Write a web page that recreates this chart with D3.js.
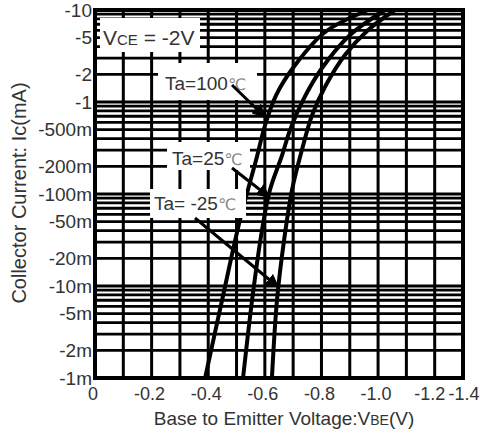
<!DOCTYPE html>
<html>
<head>
<meta charset="utf-8">
<script src="https://cdn.jsdelivr.net/npm/d3@7"></script>
<style>
  body { margin: 0; background: #fff; }
  svg { display: block; font-family: "Liberation Sans", Arial, sans-serif; }
</style>
</head>
<body>
<script>
const width = 480;
const height = 437;

// data (V in volts, Ic in mA)
const vbe100 = [-0.389, -0.449, -0.512, -0.569, -0.601, -0.640, -0.707, -0.813, -0.965];
const ic100 = [-0.001, -0.00705, -0.0521, -0.234, -0.562, -1.19, -2.52, -5.77, -10];
const vbe25 = [-0.523, -0.555, -0.590, -0.618, -0.661, -0.689, -0.735, -0.802, -0.901, -1.025];
const ic25 = [-0.001, -0.00705, -0.0406, -0.1105, -0.265, -0.497, -1.05, -2.34, -5.35, -10];
const vbeM25 = [-0.625, -0.643, -0.668, -0.696, -0.731, -0.767, -0.816, -0.883, -0.965, -1.060];
const icM25 = [-0.001, -0.00705, -0.0316, -0.1105, -0.301, -0.723, -1.53, -3.24, -6.06, -10];

const xTicks = [0, -0.2, -0.4, -0.6, -0.8, -1.0, -1.2, -1.3];
const xTickLabels = ["0", "-0.2", "-0.4", "-0.6", "-0.8", "-1.0", "-1.2", "-1.4"];
const yTicks = [-10, -5, -2, -1, -0.5, -0.2, -0.1, -0.05, -0.02, -0.01, -0.005, -0.002, -0.001];
const yTickLabels = ["-10", "-5", "-2", "-1", "-500m", "-200m", "-100m", "-50m", "-20m", "-10m", "-5m", "-2m", "-1m"];

const margin = { left: 95, right: 17, top: 10, bottom: 59 };

const svg = d3.select("body")
    .append("svg")
    .attr("width", width)
    .attr("height", height);

const x = d3.scaleLinear()
    .domain([0, -1.3])
    .range([margin.left, width - margin.right]);

const y = d3.scaleLog()
    .domain([-0.001, -10])
    .range([height - margin.bottom, margin.top]);

// grid: every 0.1 V, and log minors
const xGrid = d3.range(1, 13).map(i => -i / 10);
const yGrid = [];
[-3, -2, -1, 0].forEach(k => {
    for (let m = 1; m <= 9; m++) yGrid.push(-m * Math.pow(10, k));
});

const grid = svg.append("g");
grid.selectAll(".vg")
    .data(xGrid)
    .enter()
    .append("line")
    .attr("x1", d => x(d)).attr("x2", d => x(d))
    .attr("y1", y(-10)).attr("y2", y(-0.001))
    .attr("stroke", "#000")
    .attr("stroke-width", 3);

grid.selectAll(".hg")
    .data(yGrid)
    .enter()
    .append("line")
    .attr("x1", x(0)).attr("x2", x(-1.3))
    .attr("y1", d => y(d)).attr("y2", d => y(d))
    .attr("stroke", "#000")
    .attr("stroke-width", 2.8);

svg.append("rect")
    .attr("x", x(0))
    .attr("y", y(-10))
    .attr("width", x(-1.3) - x(0))
    .attr("height", y(-0.001) - y(-10))
    .attr("fill", "none")
    .attr("stroke", "#000")
    .attr("stroke-width", 4);

// curves
const line = d3.line()
    .x(d => x(d[0]))
    .y(d => y(d[1]))
    .curve(d3.curveCatmullRom.alpha(0.5));

const series = [
    d3.zip(vbe100, ic100),
    d3.zip(vbe25, ic25),
    d3.zip(vbeM25, icM25)
];

svg.selectAll(".curve")
    .data(series)
    .enter()
    .append("path")
    .attr("d", line)
    .attr("fill", "none")
    .attr("stroke", "#000")
    .attr("stroke-width", 4);

// tick labels (the last one is pushed to the right edge as in the scan)
const lastX = xTicks.length - 1;
svg.append("g")
    .selectAll("text")
    .data(xTicks)
    .enter()
    .append("text")
    .attr("x", (d, i) => i === lastX ? width - 0.5 : x(d) - (i === lastX - 1 ? 5 : 2))
    .attr("y", 400)
    .attr("text-anchor", (d, i) => i === lastX ? "end" : "middle")
    .attr("font-size", "18px")
    .attr("fill", "#333")
    .text((d, i) => xTickLabels[i]);

svg.append("g")
    .selectAll("text")
    .data(yTicks)
    .enter()
    .append("text")
    .attr("x", margin.left - 3)
    .attr("y", d => y(d))
    .attr("dy", "0.35em")
    .attr("text-anchor", "end")
    .attr("font-size", "19px")
    .attr("fill", "#333")
    .text((d, i) => yTickLabels[i]);

// axis titles
const xTitle = svg.append("text")
    .attr("x", 284)
    .attr("y", 425)
    .attr("text-anchor", "middle")
    .attr("font-size", "19px")
    .attr("fill", "#333");
xTitle.append("tspan").text("Base to Emitter Voltage:V");
xTitle.append("tspan").attr("font-size", "14px").text("BE");
xTitle.append("tspan").text("(V)");

svg.append("text")
    .attr("transform", "translate(26,193) rotate(-90)")
    .attr("text-anchor", "middle")
    .attr("font-size", "20px")
    .attr("fill", "#333")
    .text("Collector Current: Ic(mA)");

// annotation boxes
const boxes = [
    { x: 100, y: 18, w: 100, h: 34 },
    { x: 158, y: 63, w: 99, h: 37 },
    { x: 167, y: 142, w: 83, h: 28 },
    { x: 150, y: 189, w: 96, h: 29 }
];
svg.selectAll(".box")
    .data(boxes)
    .enter()
    .append("rect")
    .attr("x", d => d.x).attr("y", d => d.y)
    .attr("width", d => d.w).attr("height", d => d.h)
    .attr("fill", "#fff");

const vce = svg.append("text")
    .attr("x", 103).attr("y", 45)
    .attr("font-size", "21px").attr("fill", "#333");
vce.append("tspan").text("V");
vce.append("tspan").attr("font-size", "15px").text("CE");
vce.append("tspan").text(" = -2V");

const taLabels = [
    { x: 165, y: 90, t: "Ta=100" },
    { x: 172, y: 165, t: "Ta=25" },
    { x: 154, y: 210, t: "Ta= -25" }
];
taLabels.forEach(d => {
    const t = svg.append("text")
        .attr("x", d.x).attr("y", d.y)
        .attr("font-size", "19px").attr("fill", "#333");
    t.append("tspan").text(d.t);
    t.append("tspan").attr("fill", "#888").attr("font-size", "16px")
        .attr("font-family", "DejaVu Sans").text("\u2103");
});

// arrows
svg.append("defs").append("marker")
    .attr("id", "ah")
    .attr("viewBox", "0 0 10 10")
    .attr("refX", 8).attr("refY", 5)
    .attr("markerWidth", 4.5).attr("markerHeight", 4.5)
    .attr("orient", "auto")
    .append("path")
    .attr("d", "M0,0L10,5L0,10z")
    .attr("fill", "#000");

const arrows = [
    [232, 85, 264, 116],
    [232, 168, 268, 196],
    [195, 218, 277, 286]
];
svg.selectAll(".arrow")
    .data(arrows)
    .enter()
    .append("line")
    .attr("x1", d => d[0]).attr("y1", d => d[1])
    .attr("x2", d => d[2]).attr("y2", d => d[3])
    .attr("stroke", "#000")
    .attr("stroke-width", 3)
    .attr("marker-end", "url(#ah)");
</script>
</body>
</html>
